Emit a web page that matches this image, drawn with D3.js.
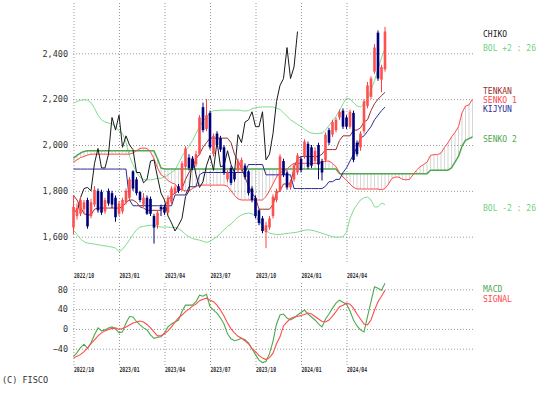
<!DOCTYPE html>
<html><head><meta charset="utf-8">
<script src="https://cdn.jsdelivr.net/npm/d3@7"></script>
<style>
body{margin:0;background:#fff}
svg{display:block}
text{font-family:"DejaVu Sans Mono",monospace}
</style>
</head><body>
<svg width="548" height="396"></svg>
<script>
// weekly candles, 2022/10 .. 2024/06
var opens  = [1640,1690,1700,1720,1760,1690,1740,1800,1795,1710,1800,1790,1770,1700,1710,1750,1770,1885,1850,1795,
              1740,1770,1765,1690,1650,1730,1730,1705,1750,1790,1820,1805,1905,1945,1940,1915,1960,2165,2070,2140,
              1960,2050,2030,1990,1850,1900,1880,1890,1895,1910,1885,1810,1770,1715,1680,1620,1640,1690,1760,1800,
              1930,1880,1815,1850,1880,1940,1950,2005,1990,1930,2000,1930,1935,2065,2045,2065,2120,2150,2120,2080,
              2140,2010,1990,2060,2170,2210,2320,2490,2285,2330];
var closes = [1730,1725,1760,1750,1645,1750,1805,1715,1705,1760,1745,1740,1685,1745,1760,1800,1850,1810,1790,1760,
              1770,1700,1700,1640,1705,1720,1705,1770,1810,1815,1800,1920,1985,1900,1900,1960,2120,2065,2130,1990,
              2040,2000,1980,1880,1880,1835,1850,1930,1935,1860,1790,1760,1690,1660,1625,1650,1680,1775,1800,1950,
              1870,1815,1840,1910,1955,1890,2015,1905,1910,1975,1915,1880,2045,2010,2100,2110,2145,2080,2080,2145,
              1935,1960,2050,2190,2260,2290,2425,2290,2340,2495];
var highs  = [1780,1745,1775,1760,1770,1765,1820,1810,1805,1770,1810,1800,1780,1755,1770,1810,1860,1890,1860,1800,
              1790,1780,1775,1700,1715,1740,1740,1780,1820,1825,1830,1930,1995,1960,1950,1975,2130,2185,2200,2150,
              2050,2060,2040,2000,1890,1910,1890,1940,1945,1920,1890,1820,1780,1720,1690,1665,1690,1785,1810,1960,
              1940,1890,1850,1920,1965,1950,2025,2015,2000,1990,2010,1940,2055,2075,2110,2120,2155,2160,2130,2155,
              2150,2020,2060,2200,2275,2300,2440,2500,2350,2515];
var lows   = [1610,1675,1690,1700,1635,1680,1730,1705,1695,1700,1735,1725,1665,1690,1700,1740,1760,1800,1780,1750,
              1730,1695,1690,1570,1635,1690,1695,1700,1740,1785,1790,1800,1895,1890,1890,1905,1955,2055,2060,1980,
              1950,1990,1970,1870,1840,1825,1840,1880,1885,1850,1780,1750,1680,1650,1615,1550,1630,1680,1750,1795,
              1860,1805,1805,1840,1870,1880,1940,1895,1900,1920,1850,1845,1925,2000,2035,2055,2110,2070,2070,2070,
              1925,1950,1975,2050,2160,2200,2310,2280,2230,2320];

var tenkan = [1780,1760,1730,1700,1695,1695,1720,1725,1725,1725,1725,1725,1725,1725,1730,1750,1760,1760,1750,1730,
              1725,1715,1715,1715,1715,1715,1730,1760,1780,1790,1800,1810,1850,1880,1905,1940,1960,1990,2010,2030,
              2030,2030,2030,2030,2030,2010,1960,1930,1900,1860,1820,1790,1770,1720,1720,1720,1720,1740,1790,1800,
              1830,1830,1830,1900,1940,1950,1950,1950,1950,1950,1950,1960,1980,1980,1980,1980,2020,2040,2040,2040,
              2065,2065,2075,2100,2110,2150,2180,2200,2215,2230];
var kijun  = [1895,1895,1895,1895,1895,1895,1895,1895,1895,1895,1895,1895,1895,1895,1895,1895,1760,1735,1735,1735,
              1735,1735,1735,1735,1735,1735,1735,1735,1735,1782,1782,1782,1782,1818,1818,1818,1870,1880,1880,1880,
              1880,1880,1880,1880,1880,1880,1880,1880,1880,1880,1915,1915,1915,1915,1915,1870,1870,1870,1870,1870,
              1870,1870,1870,1810,1810,1810,1810,1810,1810,1810,1810,1810,1820,1840,1840,1850,1850,1880,1900,1930,
              1960,1990,2030,2040,2060,2080,2110,2130,2150,2165];
// senko spans run 25 weeks past the last candle
var senko1 = [1926,1935,1945,1950,1956,1960,1960,1960,1960,1960,1960,1960,1960,1960,1960,1960,1960,1965,1975,1985,
              1987,1985,1970,1940,1900,1870,1860,1845,1835,1830,1810,1805,1800,1800,1810,1820,1825,1825,1825,1825,
              1825,1825,1825,1825,1820,1800,1780,1765,1760,1760,1760,1760,1760,1760,1760,1775,1800,1830,1860,1880,
              1885,1895,1910,1920,1920,1920,1920,1920,1920,1920,1920,1925,1930,1930,1920,1905,1880,1860,1845,1830,
              1815,1808,1808,1808,1808,1808,1808,1808,1805,1810,1830,1855,1860,1860,1850,1848,1850,1870,1890,1905,
              1915,1925,1955,1958,1958,1965,1990,2010,2035,2055,2080,2140,2170,2175,2200];
var senko2 = [1943,1955,1965,1972,1975,1975,1975,1975,1975,1975,1975,1975,1975,1975,1975,1975,1975,1975,1975,1975,
              1975,1975,1975,1975,1940,1900,1895,1895,1895,1895,1895,1895,1895,1895,1895,1895,1895,1895,1895,1895,
              1895,1895,1895,1895,1895,1895,1895,1895,1895,1895,1895,1895,1895,1895,1895,1895,1895,1895,1895,1895,
              1895,1895,1895,1895,1895,1895,1895,1895,1895,1895,1895,1895,1895,1895,1895,1895,1875,1875,1875,1875,
              1875,1875,1875,1875,1875,1875,1875,1875,1875,1875,1875,1875,1875,1875,1875,1875,1875,1875,1875,1875,
              1875,1875,1890,1890,1890,1890,1890,1890,1900,1925,1950,1995,2020,2028,2035];
var bolUp  = [2183,2190,2195,2197,2196,2185,2160,2130,2110,2100,2096,2092,2080,2060,2050,2010,1950,1915,1880,1860,
              1850,1848,1848,1850,1855,1855,1860,1870,1880,1890,1920,1950,1975,1995,2020,2050,2080,2105,2120,2140,
              2150,2150,2152,2152,2152,2152,2152,2152,2150,2148,2150,2158,2163,2165,2166,2166,2166,2166,2160,2155,
              2140,2125,2110,2100,2090,2080,2070,2058,2052,2050,2050,2052,2065,2085,2105,2125,2150,2180,2205,2200,
              2185,2170,2166,2180,2200,2240,2280,2330,2380,2420];
var bolDn  = [1629,1610,1590,1578,1572,1570,1568,1565,1562,1560,1557,1555,1550,1535,1545,1565,1585,1610,1630,1642,
              1645,1648,1650,1650,1645,1642,1642,1642,1640,1640,1635,1625,1610,1600,1592,1588,1585,1580,1575,1580,
              1590,1600,1615,1630,1645,1655,1670,1685,1695,1700,1703,1700,1690,1670,1645,1625,1616,1612,1610,1610,
              1612,1614,1616,1618,1620,1625,1628,1630,1628,1625,1620,1615,1610,1605,1600,1598,1598,1600,1620,1680,
              1716,1740,1760,1770,1773,1760,1730,1730,1747,1740];
var chikoShift = 25;

var macd   = [-56,-48,-38,-31,-39,-28,-12,2,-4,-2,2,4,0,-8,-6,12,25,24,15,8,
              2,-2,-12,-19,-17,-16,-8,4,10,14,18,35,48,48,48,55,68,66,70,45,
              38,32,22,10,-10,-20,-24,-22,-19,-22,-28,-40,-52,-63,-68,-66,-50,-25,10,28,
              30,22,18,22,28,33,38,30,24,18,10,4,20,30,42,52,58,54,50,36,
              18,6,-2,-6,25,55,85,82,78,92];
var signal = [-59,-55,-52,-46,-39,-30,-22,-14,-8,-4,-1,1,2,-1,1,4,8,12,14,16,
              14,9,2,-6,-14,-14,-10,-4,4,14,22,28,35,40,46,50,57,60,62,58,
              55,48,38,26,12,0,-8,-15,-19,-24,-30,-40,-46,-54,-59,-62,-58,-49,-30,-16,
              6,14,21,24,25,27,29,32,30,25,20,15,14,18,26,35,45,48,52,50,
              42,30,20,10,8,18,38,55,66,78];

var priceTicks = [1600,1800,2000,2200,2400];
var macdTicks = [-40,0,40,80];
var dateIdx = [0,13,26,39,52,65,78];
var dateLabels = ["2022/10","2023/01","2023/04","2023/07","2023/10","2024/01","2024/04"];

var svg = d3.select("svg");

var x = d3.scaleLinear().domain([0,114]).range([73.5,472.5]);
var y = d3.scaleLinear().domain([1600,2400]).range([236.7,53.3]);
var ym = d3.scaleLinear().domain([-40,80]).range([348.7,289.3]);

function dotted(g){
  g.select(".domain").remove();
  g.selectAll(".tick line").attr("stroke","#999").attr("stroke-dasharray","1,2");
}

// main panel grid + axes
svg.append("g").attr("transform","translate(73,0)")
  .call(d3.axisLeft(y).tickValues(priceTicks).tickSize(-400).tickPadding(5).tickFormat(d3.format(",")))
  .call(dotted)
  .call(function(g){ g.selectAll("text").attr("font-size",8.5).attr("fill","#333"); });

svg.append("g").attr("transform","translate(0,262)")
  .call(d3.axisBottom(x).tickValues(dateIdx).tickSize(-259).tickFormat(function(d,i){ return dateLabels[i]; }))
  .call(dotted)
  .call(function(g){ g.selectAll("text").attr("text-anchor","start").attr("y",16).attr("dy",0)
      .attr("font-size",7).attr("font-weight","bold").attr("fill","#333")
      .attr("textLength",20).attr("lengthAdjust","spacingAndGlyphs"); });

// macd panel grid + axes
svg.append("g").attr("transform","translate(73,0)")
  .call(d3.axisLeft(ym).tickValues(macdTicks).tickSize(-400).tickPadding(5))
  .call(dotted)
  .call(function(g){ g.selectAll("text").attr("font-size",8.5).attr("fill","#333"); });

svg.append("g").attr("transform","translate(0,365)")
  .call(d3.axisBottom(x).tickValues(dateIdx).tickSize(-82).tickFormat(function(d,i){ return dateLabels[i]; }))
  .call(dotted)
  .call(function(g){ g.selectAll("text").attr("text-anchor","start").attr("y",6.5).attr("dy",0)
      .attr("font-size",7).attr("font-weight","bold").attr("fill","#333")
      .attr("textLength",20).attr("lengthAdjust","spacingAndGlyphs"); });

// cloud hatch
svg.append("g").selectAll("line").data(senko1).join("line")
  .attr("x1",function(d,i){ return x(i); }).attr("x2",function(d,i){ return x(i); })
  .attr("y1",function(d){ return y(d); }).attr("y2",function(d,i){ return y(senko2[i]); })
  .attr("stroke","#bbb").attr("stroke-width",0.6);

var line = d3.line().x(function(d,i){ return x(i); }).y(function(d){ return y(d); });

function path(data, color, w){
  svg.append("path").datum(data)
    .attr("fill","none").attr("stroke",color).attr("stroke-width",w)
    .attr("stroke-linejoin","round").attr("d",line);
}

path(bolUp,"#7fdc8f",1);
path(bolDn,"#7fdc8f",1);
path(senko2,"#4fa84f",1.5);
path(senko1,"#ff4a4a",1);
path(kijun,"#2b2b96",1);
path(tenkan,"#993030",1);
path(closes.slice(chikoShift),"#1a1a1a",1);

// candles
var cw = 2.6;
var candle = svg.append("g").selectAll("g").data(closes).join("g");
candle.append("line")
  .attr("x1",function(d,i){ return x(i); }).attr("x2",function(d,i){ return x(i); })
  .attr("y1",function(d,i){ return y(highs[i]); }).attr("y2",function(d,i){ return y(lows[i]); })
  .attr("stroke",function(d,i){ return d >= opens[i] ? "#ff4040" : "#00007a"; }).attr("stroke-width",1);
candle.append("rect")
  .attr("x",function(d,i){ return x(i) - cw/2; }).attr("width",cw)
  .attr("y",function(d,i){ return y(Math.max(d,opens[i])); })
  .attr("height",function(d,i){ return Math.max(1, Math.abs(y(d) - y(opens[i]))); })
  .attr("fill",function(d,i){ return d >= opens[i] ? "#ff5050" : "#00007a"; });

// macd lines
var mline = d3.line().x(function(d,i){ return x(i); }).y(function(d){ return ym(d); });
svg.append("path").datum(macd).attr("fill","none").attr("stroke","#4fa84f").attr("stroke-width",1.1).attr("d",mline);
svg.append("path").datum(signal).attr("fill","none").attr("stroke","#ff4a4a").attr("stroke-width",1.1).attr("d",mline);

// right labels
var labels = [
  {t:"CHIKO", c:"#222", y:37},
  {t:"BOL +2 : 26", c:"#6fd27f", y:51},
  {t:"TENKAN", c:"#993030", y:94},
  {t:"SENKO 1", c:"#ff4a4a", y:103},
  {t:"KIJYUN", c:"#2b2b96", y:112},
  {t:"SENKO 2", c:"#4fa84f", y:142},
  {t:"BOL -2 : 26", c:"#6fd27f", y:211},
  {t:"MACD", c:"#4fa84f", y:292},
  {t:"SIGNAL", c:"#ff4a4a", y:302}
];
svg.append("g").selectAll("text").data(labels).join("text")
  .attr("x",483).attr("y",function(d){ return d.y; })
  .attr("font-size",8).attr("fill",function(d){ return d.c; })
  .text(function(d){ return d.t; });

svg.append("text").attr("x",2).attr("y",383).attr("font-size",8.5).attr("fill","#333").text("(C) FISCO");
</script>
</body></html>
